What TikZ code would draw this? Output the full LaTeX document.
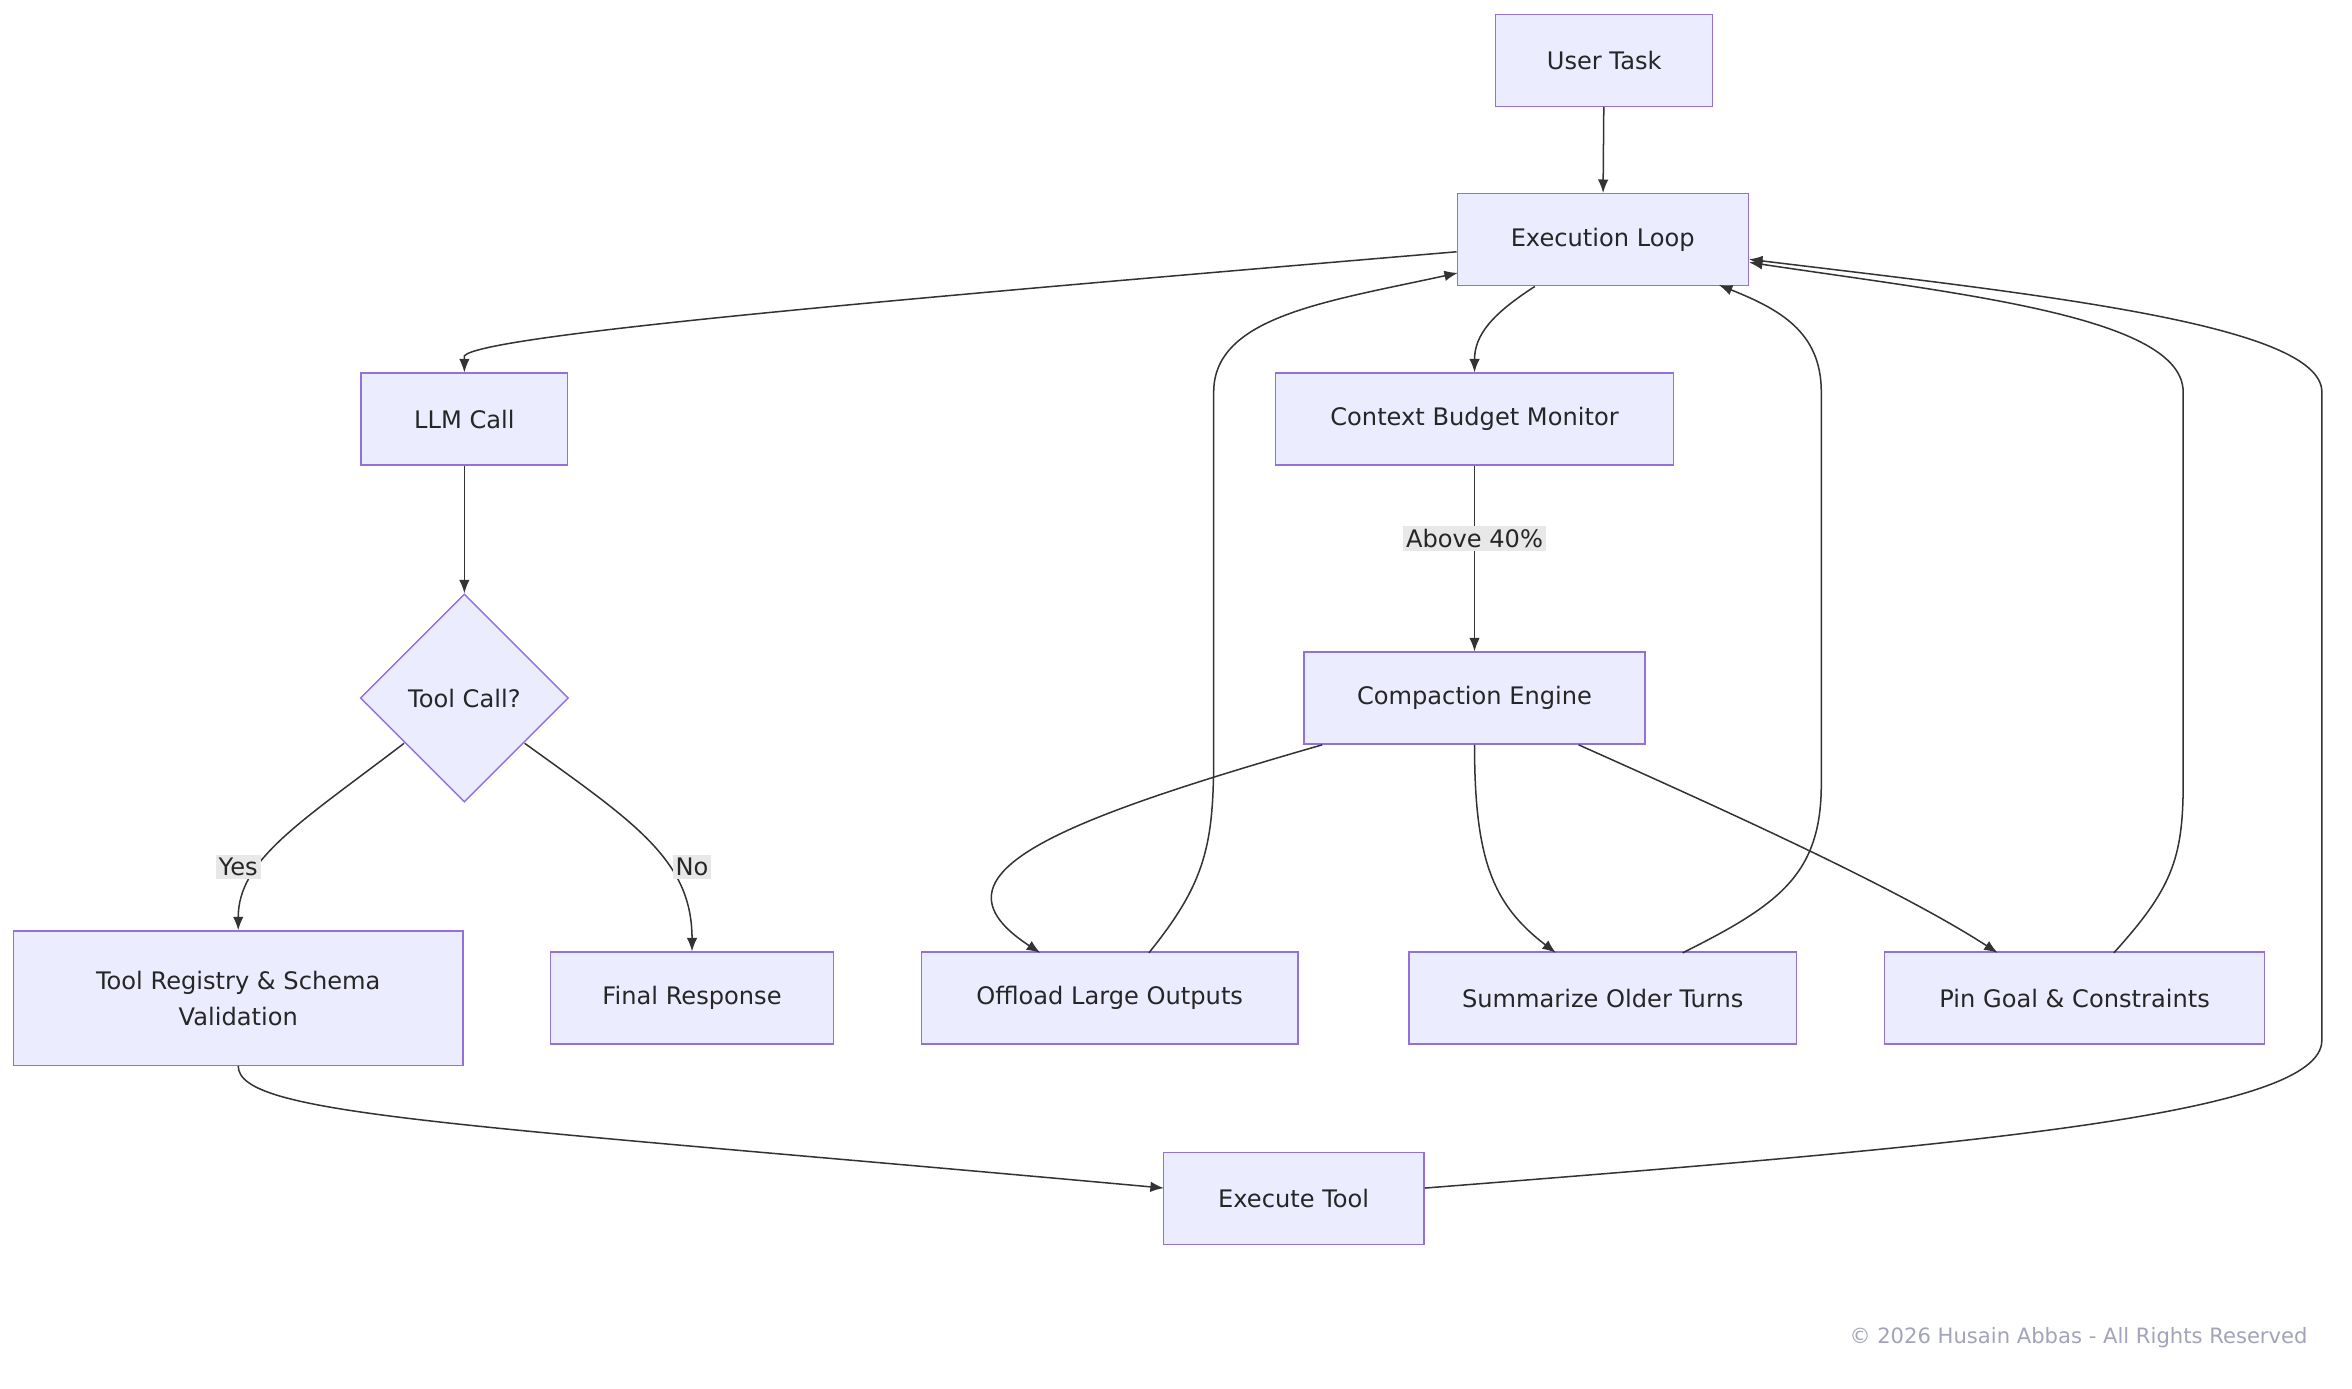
\documentclass[tikz,border=0pt]{standalone}
\usepackage{fontspec}
\setmainfont{DejaVu Sans}
\usetikzlibrary{shapes.geometric,arrows.meta}
\definecolor{nfill}{HTML}{ECECFF}
\definecolor{nbord}{HTML}{9370DB}
\definecolor{edge}{HTML}{333333}
\begin{document}
\begin{tikzpicture}[x=1pt,y=-1pt,
 box/.style={draw=nbord,fill=nfill,line width=0.9pt,minimum height=61pt,inner sep=0pt,font=\fontsize{16}{19}\selectfont,text=black!85},
 arr/.style={draw=edge,line width=1pt,-{Latex[length=9pt,width=7pt]}},
 lab/.style={fill=black!9,inner sep=2pt,font=\fontsize{16}{19}\selectfont,text=black!85}]
\useasboundingbox (0,0) rectangle (1560,921);
\fill[white] (0,0) rectangle (1560,921);
\node[box,minimum width=144pt] (ut) at (1064,40) {User Task};
\node[box,minimum width=193pt] (el) at (1063,159) {Execution Loop};
\node[box,minimum width=137pt] (llm) at (308,278) {LLM Call};
\node[box,minimum width=264pt] (cbm) at (978,278) {Context Budget Monitor};
\node[box,minimum width=226pt] (ce) at (978,463) {Compaction Engine};
\node[box,diamond,minimum width=138pt,minimum height=138pt] (tc) at (308,463) {Tool Call?};
\node[box,minimum width=298pt,minimum height=89pt,align=center] (tr) at (158,662) {Tool Registry \& Schema\\[5pt]Validation};
\node[box,minimum width=188pt] (fr) at (459,662) {Final Response};
\node[box,minimum width=250pt] (ol) at (736,662) {Offload Large Outputs};
\node[box,minimum width=257pt] (so) at (1063,662) {Summarize Older Turns};
\node[box,minimum width=252pt] (pg) at (1376,662) {Pin Goal \& Constraints};
\node[box,minimum width=173pt] (et) at (858,795) {Execute Tool};
\node[anchor=east,text=black!30!blue!20!gray!60,font=\fontsize{14}{17}\selectfont] (cr) at (1534,887) {© 2026 Husain Abbas - All Rights Reserved};

\draw[arr] (ut) -- (el);
\draw[arr] (el.west |- 0,167) .. controls (600,198) and (320,222) .. (308,236) -- (llm.north);
\draw[arr] (1018,190) .. controls (990,208) and (978,222) .. (cbm.north);
\draw[arr] (cbm) -- node[lab,pos=0.39]{Above 40\%} (ce);
\draw[arr] (llm) -- (tc);
\draw[arr] (268,493) .. controls (200,545) and (158,570) .. (tr.north);
\node[lab] at (158,575) {Yes};
\draw[arr] (348,493) .. controls (420,545) and (459,570) .. (fr.north);
\node[lab] at (459,575) {No};
\draw[arr] (877,494) .. controls (700,545) and (610,580) .. (690,632);
\draw[arr] (978,494) .. controls (978,570) and (990,600) .. (1032,632);
\draw[arr] (1047,494) .. controls (1150,540) and (1260,590) .. (1325,632);
\draw[arr] (762,632) .. controls (800,585) and (805,560) .. (805,500) -- (805,260) .. controls (805,210) and (880,200) .. (967,181);
\draw[arr] (1116,632) .. controls (1180,600) and (1208,580) .. (1208,520) -- (1208,260) .. controls (1208,220) and (1180,205) .. (1140,189);
\draw[arr] (1402,632) .. controls (1440,590) and (1448,570) .. (1448,520) -- (1448,260) .. controls (1448,210) and (1300,195) .. (1160,174);
\draw[arr] (945,788) .. controls (1300,760) and (1540,740) .. (1540,690) -- (1540,260) .. controls (1540,215) and (1350,195) .. (1160,172);
\draw[arr] (tr.south) .. controls (158,740) and (300,745) .. (772,788);
\end{tikzpicture}
\end{document}
